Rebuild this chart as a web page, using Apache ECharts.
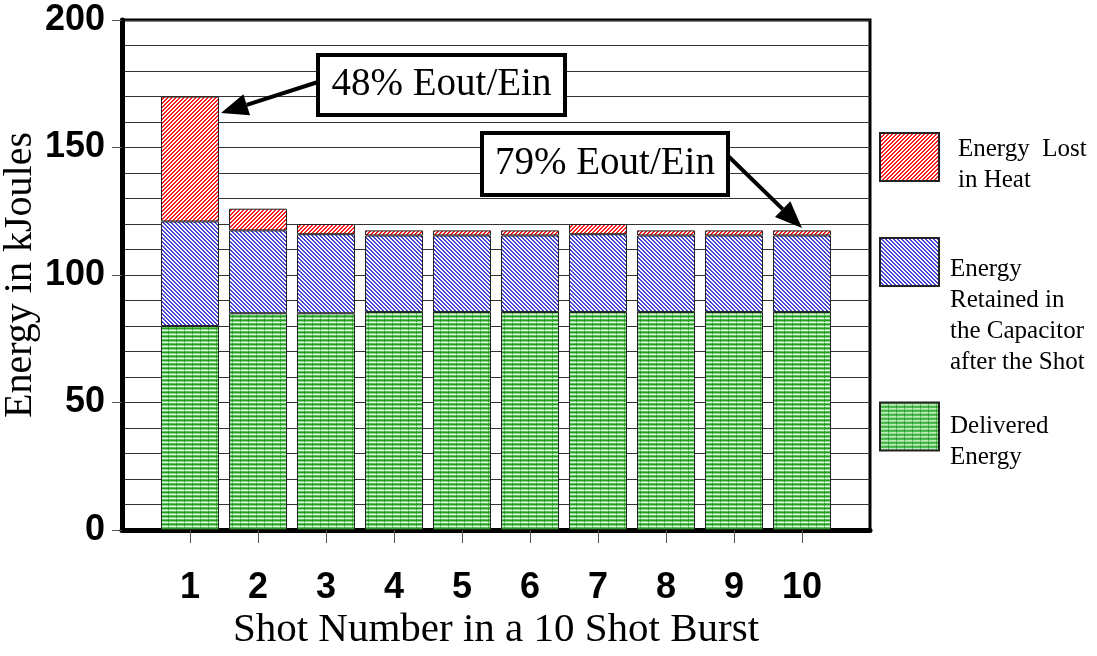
<!DOCTYPE html>
<html><head><meta charset="utf-8">
<script src="https://cdn.jsdelivr.net/npm/echarts@6/dist/echarts.min.js"></script>
<style>html,body{margin:0;padding:0;background:#fff}#c{width:1097px;height:656px}</style>
</head><body><div id="c"></div>
<script>
// ---- data ----
const shots = ['1','2','3','4','5','6','7','8','9','10'];
const delivered = [80, 85, 85, 85.5, 85.5, 85.5, 85.5, 85.5, 85.5, 85.5];
const retained  = [41, 32.5, 31, 30, 30, 30, 30.5, 30, 30, 30];
const lost      = [49, 8.5, 4, 2, 2, 2, 4, 2, 2, 2];
const seriesNames = ['Energy Lost in Heat', 'Energy Retained in the Capacitor after the Shot', 'Delivered Energy'];
const legendLabels = ['Energy  Lost\nin Heat', 'Energy\nRetained in\nthe Capacitor\nafter the Shot', 'Delivered\nEnergy'];
const notes = ['48% Eout/Ein', '79% Eout/Ein'];
const yTitle = 'Energy in kJoules';
const xTitle = 'Shot Number in a 10 Shot Burst';

// ---- patterns ----
function makePattern(w, h, fn) {
  const c = document.createElement('canvas'); c.width = w; c.height = h;
  const ctx = c.getContext('2d');
  for (let y = 0; y < h; y++) for (let x = 0; x < w; x++) { ctx.fillStyle = fn(x, y); ctx.fillRect(x, y, 1, 1); }
  return { image: c, repeat: 'repeat' };
}
const redPat = makePattern(4, 4, (x, y) => ((x + y) % 4 < 2) ? '#ff1c1c' : '#ffffff');
const bluePat = makePattern(4, 4, (x, y) => ((((x - y) % 4) + 4) % 4 < 2) ? '#4646d2' : '#ffffff');
const greenRows = ['#1f9f1f', '#8ed98e', '#e4f7e4', '#5cc35c'];
const greenPat = makePattern(8, 4, (x, y) => (x === 0 ? (y === 2 ? '#9bd89b' : '#2a9a2a') : greenRows[y]));

const cats = [''].concat(shots, ['']);
const pad = arr => [null].concat(arr, [null]);

function arrow(x1, y1, x2, y2) {
  const ang = Math.atan2(y2 - y1, x2 - x1), L = 27, W = 11;
  const bx = x2 - L * Math.cos(ang), by = y2 - L * Math.sin(ang);
  const px = -Math.sin(ang) * W, py = Math.cos(ang) * W;
  return [
    { type: 'line', z: 10, shape: { x1: x1, y1: y1, x2: bx, y2: by }, style: { stroke: '#000', lineWidth: 4 } },
    { type: 'polygon', z: 10, shape: { points: [[x2, y2], [bx + px, by + py], [bx - px, by - py]] }, style: { fill: '#000' } }
  ];
}
function box(x, y, w, h, text) {
  return [
    { type: 'rect', z: 11, shape: { x: x, y: y, width: w, height: h }, style: { fill: '#fff', stroke: '#000', lineWidth: 4 } },
    { type: 'text', z: 12, x: x + w / 2, y: y + h / 2, style: { text: text, fill: '#000', font: '39px "Liberation Serif", "Times New Roman", serif', align: 'center', verticalAlign: 'middle' } }
  ];
}

const serifFont = '"Liberation Serif", "Times New Roman", serif';
const sansFont = '"Liberation Sans", Arial, sans-serif';

// legend: spacer line of height gap pushes text block down by gap/2
const legendItem = (name, label, top, gap, padLeft) => ({
  data: [name], left: 879, top: top, orient: 'vertical', itemWidth: 59, itemHeight: 48, padding: 0, icon: 'rect',
  selectedMode: false,
  formatter: () => '{g| }\n' + label,
  textStyle: {
    fontFamily: serifFont, fontSize: 25, lineHeight: 31, color: '#000', padding: [0, 0, 0, padLeft],
    rich: { g: { lineHeight: gap, fontSize: 4 } }
  }
});

const chart = echarts.init(document.getElementById('c'), null, { renderer: 'canvas' });
chart.setOption({
  animation: false,
  backgroundColor: '#fff',
  grid: { left: 122, right: 227, top: 20, bottom: 126, show: true, borderColor: '#000', borderWidth: 3, backgroundColor: 'transparent', outerBoundsMode: 'none', containLabel: false },
  legend: [
    legendItem(seriesNames[0], legendLabels[0], 118, 16, 14),
    legendItem(seriesNames[1], legendLabels[1], 146, 108, 6),
    legendItem(seriesNames[2], legendLabels[2], 380, 31, 6)
  ],
  xAxis: {
    type: 'category', data: cats, boundaryGap: false,
    axisLine: { lineStyle: { color: '#000', width: 5 } },
    axisTick: { show: true, interval: (i, v) => v !== '', length: 13, lineStyle: { color: '#555', width: 1 } },
    axisLabel: { interval: 0, margin: 40, fontSize: 36, fontWeight: 'bold', fontFamily: sansFont, color: '#000' },
    splitLine: { show: false },
    name: xTitle, nameLocation: 'middle', nameGap: 80, nameMoveOverlap: false,
    nameTextStyle: { fontFamily: serifFont, fontSize: 41, color: '#000' }
  },
  yAxis: {
    type: 'value', min: 0, max: 200, interval: 50,
    axisLine: { show: true, lineStyle: { color: '#000', width: 5 } },
    axisTick: { show: true, length: 10, lineStyle: { color: '#555', width: 1 } },
    axisLabel: { margin: 17, fontSize: 36, fontWeight: 'bold', fontFamily: sansFont, color: '#000' },
    splitLine: { show: true, lineStyle: { color: '#333', width: 1 } },
    minorTick: { show: false, splitNumber: 5 },
    minorSplitLine: { show: true, lineStyle: { color: '#333', width: 1 } },
    name: yTitle, nameLocation: 'middle', nameGap: 82, nameMoveOverlap: false,
    nameTextStyle: { fontFamily: serifFont, fontSize: 40, color: '#000' }
  },
  series: [
    { name: seriesNames[2], type: 'bar', stack: 'e', barWidth: 58, data: pad(delivered), itemStyle: { color: greenPat, borderColor: '#222', borderWidth: 1 } },
    { name: seriesNames[1], type: 'bar', stack: 'e', barWidth: 58, data: pad(retained), itemStyle: { color: bluePat, borderColor: '#222', borderWidth: 1 } },
    { name: seriesNames[0], type: 'bar', stack: 'e', barWidth: 58, data: pad(lost), itemStyle: { color: redPat, borderColor: '#222', borderWidth: 1 } }
  ],
  graphic: [].concat(
    arrow(318, 82, 221, 113),
    arrow(724, 152, 802, 228),
    box(318, 55, 247, 60, notes[0]),
    box(482, 133, 246, 62, notes[1])
  )
});
</script></body></html>
